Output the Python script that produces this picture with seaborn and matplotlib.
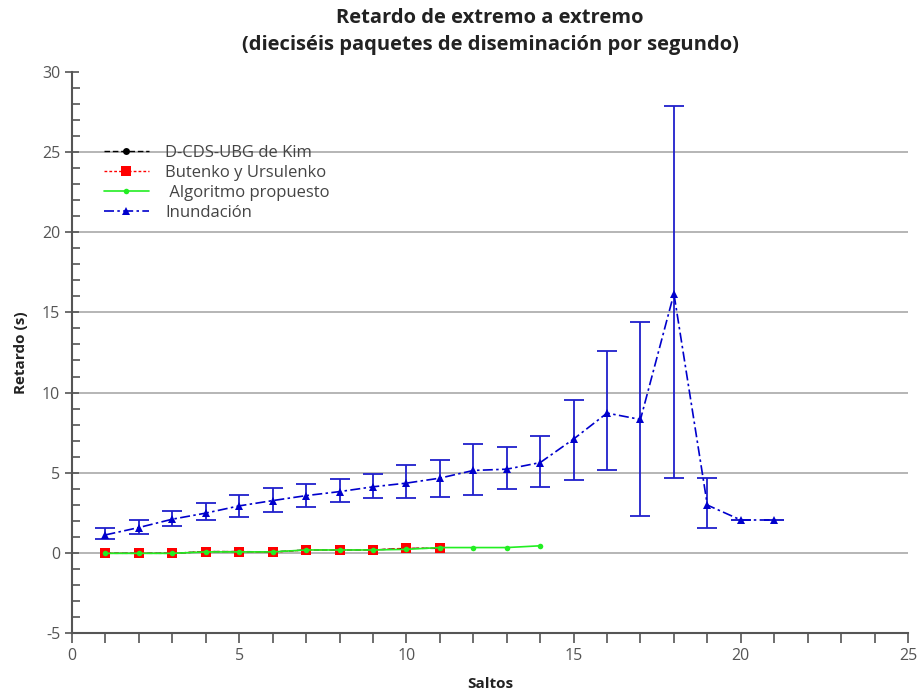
import numpy as np
import pandas as pd
import matplotlib
matplotlib.use("Agg")
import matplotlib.pyplot as plt
from matplotlib.ticker import MultipleLocator
import seaborn as sns

# ---- data ----
saltos_kim = [1, 2, 3, 4, 5, 6, 7, 8, 9, 10, 11]
retardo_kim = [-0.03, -0.03, -0.03, 0.08, 0.08, 0.06, 0.18, 0.18, 0.18, 0.28, 0.28]

saltos_but = [1, 2, 3, 4, 5, 6, 7, 8, 9, 10, 11]
retardo_but = [-0.03, -0.03, -0.03, 0.08, 0.08, 0.04, 0.18, 0.18, 0.18, 0.29, 0.28]

saltos_alg = [1, 2, 3, 4, 5, 6, 7, 8, 9, 10, 11, 12, 13, 14]
retardo_alg = [-0.03, -0.03, -0.03, 0.06, 0.06, 0.06, 0.18, 0.18, 0.18, 0.22, 0.33, 0.33, 0.33, 0.44]

saltos_inu = [1, 2, 3, 4, 5, 6, 7, 8, 9, 10, 11, 12, 13, 14, 15, 16, 17, 18, 19, 20, 21]
retardo_inu = [1.12, 1.58, 2.10, 2.48, 2.93, 3.26, 3.57, 3.82, 4.12, 4.35, 4.66, 5.14, 5.22, 5.63,
               7.10, 8.72, 8.32, 16.17, 2.98, 2.05, 2.05]
inu_sup = [1.54, 2.06, 2.58, 3.14, 3.62, 4.07, 4.28, 4.60, 4.93, 5.49, 5.80, 6.78, 6.63, 7.30,
           9.56, 12.57, 14.39, 27.89, 4.65, 2.05, 2.05]
inu_inf = [0.85, 1.19, 1.68, 2.06, 2.23, 2.54, 2.89, 3.20, 3.41, 3.41, 3.51, 3.62, 3.97, 4.10,
           4.54, 5.16, 2.31, 4.67, 1.53, 2.05, 2.05]

title = "Retardo de extremo a extremo\n(dieciséis paquetes de diseminación por segundo)"
xlabel = "Saltos"
ylabel = "Retardo (s)"
labels = ["D-CDS-UBG de Kim", "Butenko y Ursulenko", " Algoritmo propuesto", "Inundación"]

# ---- figure ----
sns.set_style("white")
plt.rcParams["font.family"] = ["Open Sans", "DejaVu Sans"]
plt.rcParams["axes.unicode_minus"] = False

fig = plt.figure(figsize=(9.22, 6.94), dpi=100)
ax = fig.add_axes([0.0781, 0.0879, 0.9067, 0.8084])

sns.lineplot(x=saltos_kim, y=retardo_kim, ax=ax, color="black", linestyle=(0, (4, 2)),
             marker="o", markersize=5, markeredgewidth=0, linewidth=1.0, label=labels[0], zorder=3)
sns.lineplot(x=saltos_but, y=retardo_but, ax=ax, color="#ff0000", linestyle=(0, (2, 1.5)),
             marker="s", markersize=7, markeredgewidth=0, linewidth=1.0, label=labels[1], zorder=4)
sns.lineplot(x=saltos_alg, y=retardo_alg, ax=ax, color="#22ee22", linestyle="-",
             marker="o", markersize=4, markeredgewidth=0, linewidth=1.2, label=labels[2], zorder=5)

yerr = [np.array(retardo_inu) - np.array(inu_inf), np.array(inu_sup) - np.array(retardo_inu)]
ax.errorbar(saltos_inu, retardo_inu, yerr=yerr, fmt="none", ecolor="#2020cc",
            elinewidth=1.3, capsize=7.5, capthick=1.3, zorder=5)
sns.lineplot(x=saltos_inu, y=retardo_inu, ax=ax, color="#0000cc", linestyle=(0, (6, 2, 1.5, 2)),
             marker="^", markersize=6, markeredgewidth=0, linewidth=1.2, label=labels[3], zorder=6)

ax.set_xlim(0, 25)
ax.set_ylim(-5, 30)
ax.xaxis.set_major_locator(MultipleLocator(5))
ax.xaxis.set_minor_locator(MultipleLocator(1))
ax.yaxis.set_major_locator(MultipleLocator(5))
ax.yaxis.set_minor_locator(MultipleLocator(1))

for s in ["top", "right"]:
    ax.spines[s].set_visible(False)
for s in ["left", "bottom"]:
    ax.spines[s].set_color("#555555")
    ax.spines[s].set_linewidth(1.5)

ax.tick_params(axis="x", which="both", direction="out", length=7, width=1.2,
               colors="#555555", labelsize=11.5, bottom=True)
ax.tick_params(axis="y", which="major", direction="inout", length=10, width=1.2,
               colors="#555555", labelsize=11.5, left=True)
ax.tick_params(axis="y", which="minor", direction="in", length=6, width=1.2,
               colors="#555555", left=True)

ax.yaxis.grid(True, which="major", color="#b0b0b0", linewidth=1.3)
ax.xaxis.grid(False)
ax.set_axisbelow(True)
fig.canvas.draw()
for gl, t in zip(ax.get_ygridlines(), ax.get_yticks()):
    if t <= -5 or t >= 30:
        gl.set_visible(False)

ax.set_xlabel(xlabel, fontsize=11, fontweight="bold", color="#222222", labelpad=10)
ax.set_ylabel(ylabel, fontsize=11, fontweight="bold", color="#222222", labelpad=10)
ax.set_title(title, fontsize=14.5, fontweight="bold", color="#222222", pad=16, linespacing=1.45)

leg = ax.legend(loc="upper left", bbox_to_anchor=(0.02, 0.897), frameon=False,
                fontsize=12, handlelength=2.7, handletextpad=1.0, labelspacing=0.25,
                labelcolor="#444444")

fig.savefig("out.png", dpi=100)
